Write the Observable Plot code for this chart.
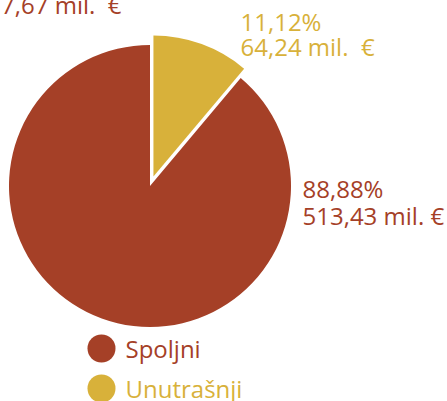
<!DOCTYPE html>
<html>
<head>
<meta charset="utf-8">
<script src="https://cdn.jsdelivr.net/npm/d3@7"></script>
<script src="https://cdn.jsdelivr.net/npm/@observablehq/plot@0.6"></script>
<style>
  html, body { margin: 0; padding: 0; background: #fff; }
  #chart { width: 447px; height: 401px; overflow: hidden; }
</style>
</head>
<body>
<div id="chart"></div>
<script>
// ---- data ----
const categories = ["Unutrašnji", "Spoljni"];
const values = [64.24, 513.43];            // mil. €
const shares = ["11,12%", "88,88%"];
const amounts = ["64,24 mil.\u00a0 €", "513,43 mil. €"];
const totalLabel = "577,67 mil.\u00a0 €";
const legendOrder = ["Spoljni", "Unutrašnji"];
const colors = ["#d8b13a", "#a54027"];

// ---- layout ----
const W = 447, H = 401;
const cx = 150, cy = 186, R = 141, explode = 10;
const font = "'Open Sans', sans-serif";
const fs = 24;

const slices = d3.pie().sort(null).value(d => d.value)(
  categories.map((c, i) => ({ category: c, value: values[i], share: shares[i], amount: amounts[i] }))
);

const pieMark = (index, scales, vals, dims) => {
  const g = d3.create("svg:g");
  const arc = d3.arc().innerRadius(0).outerRadius(R);
  for (const s of slices) {
    const mid = (s.startAngle + s.endAngle) / 2;
    const off = s.data.category === "Unutrašnji" ? explode : 0;
    const x = scales.x(cx) + off * Math.sin(mid);
    const y = scales.y(cy) - off * Math.cos(mid);
    g.append("path")
      .attr("d", arc(s))
      .attr("transform", `translate(${x},${y})`)
      .attr("fill", scales.color(s.data.category));
  }
  return g.node();
};

const labelPos = {
  "Unutrašnji": { x: 240, y: 55, lh: 1.04 },
  "Spoljni": { x: 302, y: 224, lh: 1.125 }
};
const labelMarks = slices.map(s => {
  const p = labelPos[s.data.category];
  return Plot.text([{ category: s.data.category, text: s.data.share + "\n" + s.data.amount }], {
    x: () => p.x, y: () => p.y, text: "text", fill: "category",
    textAnchor: "start", lineAnchor: "bottom", lineHeight: p.lh, fontSize: fs, fontFamily: font
  });
});

const legend = legendOrder.map((c, i) => ({ category: c, x: 101, y: 348 + i * 40 }));

const chart = Plot.plot({
  width: W, height: H,
  margin: 0,
  x: { domain: [0, W], range: [0, W], axis: null },
  y: { domain: [0, H], range: [0, H], axis: null },
  color: { domain: categories, range: colors },
  style: { fontFamily: font, background: "#fff" },
  marks: [
    pieMark,
    ...labelMarks,
    Plot.text([totalLabel], {
      x: [121], y: [13], text: d => d, fill: colors[1],
      textAnchor: "end", lineAnchor: "bottom", fontSize: fs, fontFamily: font
    }),
    Plot.dot(legend, { x: "x", y: "y", r: 14, fill: "category", stroke: null }),
    Plot.text(legend, {
      x: d => d.x + 24, y: d => d.y + 9, text: "category", fill: "category",
      textAnchor: "start", lineAnchor: "bottom", fontSize: fs, fontFamily: font
    })
  ]
});
document.getElementById("chart").appendChild(chart);
</script>
</body>
</html>
